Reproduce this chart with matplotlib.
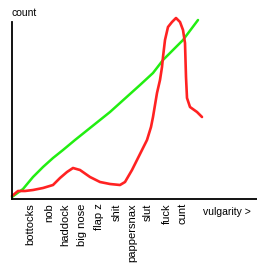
import matplotlib
matplotlib.use("Agg")
from matplotlib import pyplot as plt

# words along the vulgarity axis and where they sit
words = ['bottocks', 'nob', 'haddock', 'big nose', 'flap z', 'shit',
         'pappersnax', 'slut', 'fuck', 'cunt']
word_pos = [18, 37, 53, 70, 87, 105, 120, 136, 155, 171]

# green: the straight-ish rising line
green_x = [0, 11, 21, 31, 41, 51, 63, 78, 98, 108, 128, 141, 151, 171, 186]
green_y = [2, 10, 22, 32, 41, 49, 59, 71, 87, 96, 114, 126, 139, 159, 179]

# red: the wobbly hand drawn curve
red_x = [0, 6, 13, 21, 31, 41, 48, 55, 61, 68, 78, 88, 98, 108, 113, 120,
         125, 130, 135, 139, 141, 145, 148, 150, 151, 153, 156, 160, 164, 168,
         171, 173, 174, 175, 178, 185, 190]
red_y = [3, 8, 8, 9, 11, 14, 21, 27, 31, 29, 22, 17, 15, 14, 17, 29,
         39, 49, 59, 72, 82, 106, 119, 132, 142, 159, 172, 177, 181, 177,
         169, 156, 122, 101, 92, 87, 82]


def main():
    plt.rcParams['font.family'] = ['Liberation Sans', 'DejaVu Sans']
    fig = plt.figure(figsize=(2.57, 2.64), dpi=100)
    ax = fig.add_axes([12 / 257, 65 / 264, 245 / 257, 177 / 264])

    ax.plot(green_x, green_y, color='#22ee11', lw=1.8, solid_capstyle='round',
            solid_joinstyle='round', clip_on=False)
    ax.plot(red_x, red_y, color='#ff2222', lw=1.9, solid_capstyle='round',
            solid_joinstyle='round', clip_on=False)

    ax.set_xlim(0, 245)
    ax.set_ylim(0, 177)

    for s in ['top', 'right']:
        ax.spines[s].set_visible(False)
    for s in ['left', 'bottom']:
        ax.spines[s].set_linewidth(1.3)
        ax.spines[s].set_color('black')

    ax.set_yticks([])
    ax.set_xticks(word_pos)
    ax.set_xticklabels(words, rotation=90, va='top', ha='center', fontsize=8)
    ax.tick_params(axis='x', length=0, pad=3)

    ax.text(0, 1.05, 'count', transform=ax.transAxes, fontsize=7.5,
            ha='left', va='center')
    ax.text(0.78, -0.073, 'vulgarity >', transform=ax.transAxes, fontsize=7.5,
            ha='left', va='center')

    fig.savefig('out.png', dpi=100)


if __name__ == '__main__':
    main()
